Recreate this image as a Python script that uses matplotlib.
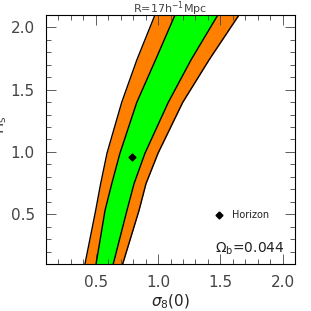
import numpy as np
import matplotlib
matplotlib.use("Agg")
import matplotlib.pyplot as plt
from matplotlib.ticker import MultipleLocator

# band boundaries: sigma_8(0) as a function of H_s
h_s = [0.1, 0.53, 0.745, 0.99, 1.398, 1.74, 2.1]
outer_left = [0.413, 0.499, 0.539, 0.59, 0.708, 0.83, 0.975]
inner_left = [0.502, 0.574, 0.628, 0.694, 0.829, 0.98, 1.136]
inner_right = [0.64, 0.75, 0.807, 0.895, 1.082, 1.265, 1.48]
outer_right = [0.716, 0.847, 0.903, 1.0, 1.198, 1.41, 1.65]

horizon_pt = (0.79, 0.96)
legend_pt = (1.49, 0.495)

orange = '#ff7f00'
green = '#00ff00'
grey = '#444444'

fig = plt.figure(figsize=(3.11, 3.11), dpi=100)
ax = fig.add_axes([46 / 311, 47 / 311, 249 / 311, 249 / 311])

ax.fill_betweenx(h_s, outer_left, outer_right, color=orange, lw=0)
ax.fill_betweenx(h_s, inner_left, inner_right, color=green, lw=0)
for xs in (outer_left, inner_left, inner_right, outer_right):
    ax.plot(xs, h_s, color='black', lw=1, solid_joinstyle='round')

ax.plot(*horizon_pt, marker='D', color='black', ms=3.5, ls='none')
ax.plot(*legend_pt, marker='D', color='black', ms=3.5, ls='none')
ax.text(legend_pt[0] + 0.1, legend_pt[1], 'Horizon', fontsize=7,
        va='center', ha='left', color='#222222')
ax.text(2.02, 0.22, r'$\Omega_{\rm b}$=0.044', fontsize=10, ha='right',
        va='center', color='#222222')

ax.set_xlim(0.1, 2.1)
ax.set_ylim(0.1, 2.1)
ax.xaxis.set_major_locator(MultipleLocator(0.5))
ax.yaxis.set_major_locator(MultipleLocator(0.5))
ax.xaxis.set_minor_locator(MultipleLocator(0.1))
ax.yaxis.set_minor_locator(MultipleLocator(0.1))
ax.tick_params(which='both', direction='in', top=True, right=True,
               labelsize=11, labelcolor=grey, color=grey, width=0.6)
ax.tick_params(which='major', length=7, pad=8)
ax.tick_params(which='minor', length=3.5)
for s in ax.spines.values():
    s.set_linewidth(0.8)

fig.text(170.5 / 311, 1 - 8.5 / 311, r'R=17h$^{-1}$Mpc', fontsize=8,
         color=grey, ha='center', va='center')
ax.set_xlabel(r'$\sigma_8(0)$', fontsize=11, color='#222222', labelpad=2)
ax.set_ylabel(r'H$_{\rm s}$', fontsize=11, color=grey)
ax.yaxis.set_label_coords(-0.15, 0.56)

fig.savefig('out.png', dpi=100)
